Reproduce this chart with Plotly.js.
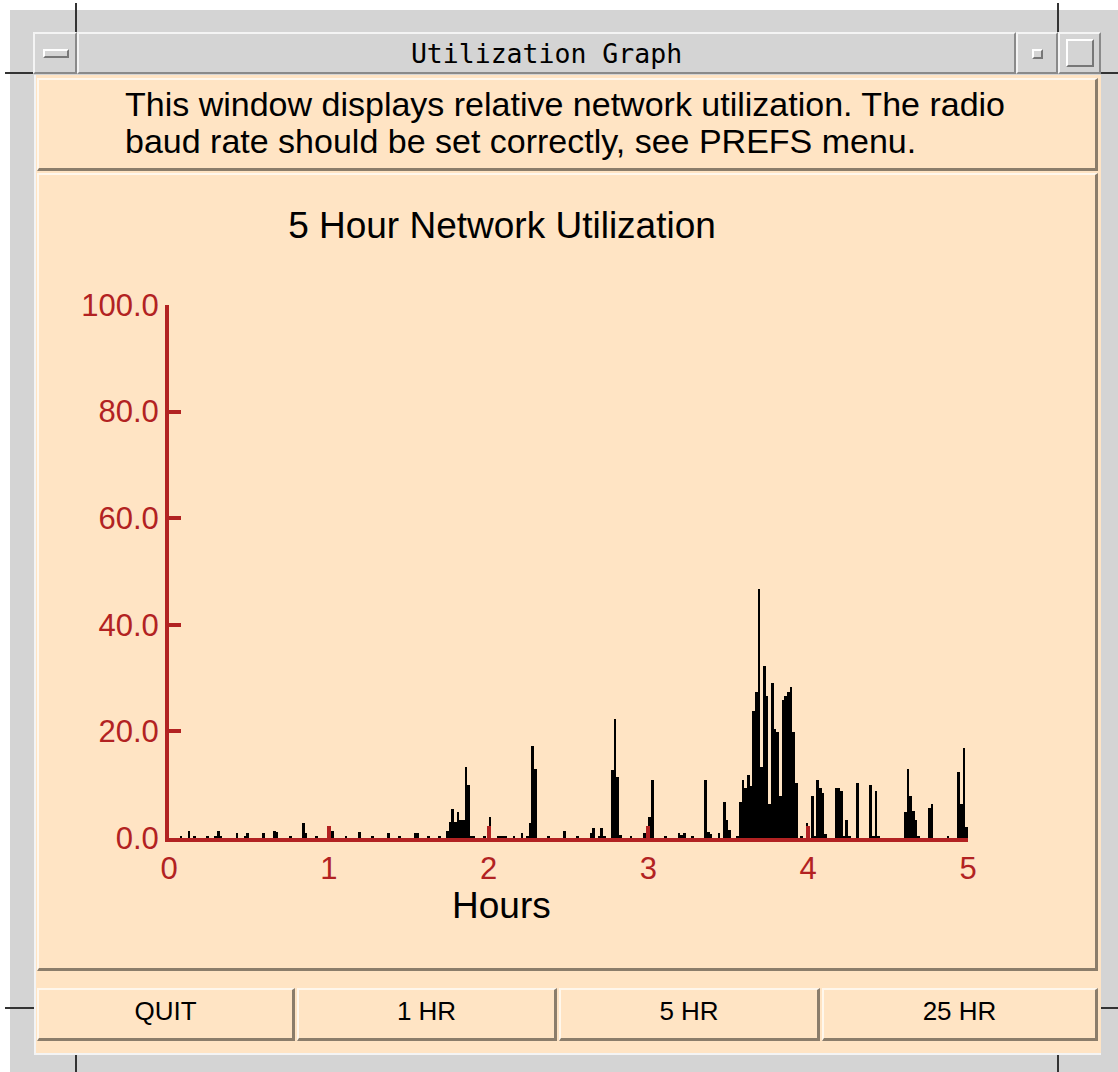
<!DOCTYPE html>
<html>
<head>
<meta charset="utf-8">
<script src="https://cdn.plot.ly/plotly-3.0.1.min.js"></script>
<style>
  html, body { margin:0; padding:0; background:#ffffff; }
  body { width:1118px; height:1072px; position:relative; overflow:hidden; font-family:"Liberation Sans", Arial, Helvetica, sans-serif; }
  .abs { position:absolute; box-sizing:border-box; }
  .gray { background:#d4d4d4; }
  .line { position:absolute; background:#333; }
  .wmbtn { position:absolute; box-sizing:border-box; background:#d4d4d4;
           border-top:2px solid #f4f4f4; border-left:2px solid #f4f4f4;
           border-bottom:2px solid #8a8a8a; border-right:2px solid #8a8a8a; }
  .panel { position:absolute; box-sizing:border-box; background:#ffe4c4;
           border-top:2px solid #fff7ec; border-left:2px solid #fff7ec;
           border-bottom:3px solid #8b7d6b; border-right:3px solid #8b7d6b; }
  .btn { position:absolute; box-sizing:border-box; background:#ffe4c4;
         border-top:2px solid #fff7ec; border-left:2px solid #fff7ec;
         border-bottom:3px solid #8b7d6b; border-right:3px solid #8b7d6b;
         display:flex; align-items:center; justify-content:center;
         font-size:26px; color:#000; padding-bottom:6px; }
</style>
</head>
<body>
<!-- window manager frame -->
<div class="abs gray" style="left:10px; top:10px; width:1108px; height:1062px;"></div>
<div class="line" style="left:75px; top:3px; width:2px; height:70px;"></div>
<div class="line" style="left:1057px; top:3px; width:2px; height:70px;"></div>
<div class="line" style="left:5px; top:72px; width:30px; height:2px;"></div>
<div class="line" style="left:1100px; top:72px; width:18px; height:2px;"></div>
<div class="line" style="left:5px; top:1007px; width:30px; height:2px;"></div>
<div class="line" style="left:1100px; top:1007px; width:18px; height:2px;"></div>
<div class="line" style="left:75px; top:1053px; width:2px; height:19px;"></div>
<div class="line" style="left:1057px; top:1053px; width:2px; height:19px;"></div>

<!-- title bar -->
<div class="wmbtn" style="left:33px; top:32px; width:44px; height:42px;">
  <div class="abs" style="left:8px; top:15px; width:26px; height:9px; border-top:2px solid #fff; border-left:2px solid #fff; border-bottom:2px solid #777; border-right:2px solid #777;"></div>
</div>
<div class="wmbtn" style="left:77px; top:32px; width:939px; height:42px; display:flex; align-items:center; justify-content:center;">
  <span style="font-family:'DejaVu Sans Mono','Liberation Mono',monospace; font-size:26.5px; color:#000;">Utilization Graph</span>
</div>
<div class="wmbtn" style="left:1016px; top:32px; width:42px; height:42px;">
  <div class="abs" style="left:14px; top:15px; width:11px; height:10px; border-top:2px solid #fff; border-left:2px solid #fff; border-bottom:2px solid #777; border-right:2px solid #777;"></div>
</div>
<div class="wmbtn" style="left:1058px; top:32px; width:43px; height:42px;">
  <div class="abs" style="left:6px; top:5px; width:28px; height:28px; border-top:2px solid #fff; border-left:2px solid #fff; border-bottom:2px solid #777; border-right:2px solid #777;"></div>
</div>

<!-- client area -->
<div class="abs" style="left:34px; top:75px; width:1067px; height:980px; background:#ffe4c4; border-left:2px solid #f4f4f4; border-bottom:2px solid #f4f4f4;"></div>

<div class="panel" style="left:37px; top:78px; width:1061px; height:93px;">
  <div class="abs" style="left:86px; top:6px; font-size:34px; line-height:37px; color:#000; white-space:nowrap;">This window displays relative network utilization. The radio<br>baud rate should be set correctly, see PREFS menu.</div>
</div>

<div class="panel" style="left:37px; top:173px; width:1061px; height:798px;"></div>
<div id="chart" class="abs" style="left:39px; top:175px; width:1056px; height:793px;"></div>

<div class="btn" style="left:37px; top:988px; width:258px; height:53px;">QUIT</div>
<div class="btn" style="left:297px; top:988px; width:260px; height:53px;">1 HR</div>
<div class="btn" style="left:559px; top:988px; width:261px; height:53px;">5 HR</div>
<div class="btn" style="left:822px; top:988px; width:276px; height:53px;">25 HR</div>

<script>
// Minute index within the 5-hour window (0..299) and the utilization (%) in that minute.
var minuteIndex = [
  4, 7, 9, 14, 17, 18, 19, 25, 28, 29, 35, 39, 40, 45, 50, 51, 55, 61, 66, 71,
  76, 82, 86, 92, 93, 97, 101, 104, 105, 106, 107, 108, 109, 110, 111, 112, 113, 114, 118,
  120, 123, 124, 125, 126, 129, 132, 134, 135, 136, 137, 142, 148,
  153, 158, 159, 161, 162, 163, 166, 167, 168, 169, 173, 178, 180, 181, 186,
  191, 192, 193, 196, 201, 202, 203, 206, 208, 209, 210, 213,
  214, 215, 216, 217, 218, 219, 220, 221, 222, 223, 224, 225, 226, 227, 228, 229,
  230, 231, 232, 233, 234, 235,
  237, 239, 241, 242, 243, 244, 245, 246, 250, 251, 252, 253, 254, 255, 258,
  263, 264, 265, 266, 276, 277, 278, 279, 280, 281, 285, 286, 292, 296, 297, 298, 299
];
var utilization = [
  0.3, 1.3, 0.3, 0.3, 0.3, 1.3, 0.3, 0.9, 0.3, 1.0, 0.9, 1.4, 1.2, 0.3, 2.9, 0.9, 0.3, 1.4, 0.3, 1.2,
  0.3, 1.0, 0.3, 1.0, 1.0, 0.3, 0.3, 1.4, 3.0, 5.4, 3.0, 4.9, 3.4, 3.4, 13.4, 9.9, 0.3, 0.3, 0.3,
  3.9, 0.3, 0.3, 0.3, 0.3, 0.3, 1.0, 0.3, 2.9, 17.3, 12.9, 0.3, 1.4,
  0.3, 0.9, 1.8, 0.3, 1.8, 0.3, 12.8, 22.3, 11.4, 0.5, 0.3, 0.9, 3.9, 10.9, 0.3,
  0.9, 0.5, 0.9, 0.3, 10.9, 1.2, 0.8, 0.9, 6.8, 3.4, 1.5, 0.3,
  6.8, 10.9, 9.3, 11.9, 9.8, 23.8, 27.3, 46.8, 13.4, 32.3, 26.7, 6.3, 29.0, 20.4, 19.8, 7.9,
  25.9, 26.7, 27.3, 28.4, 19.9, 10.4,
  0.3, 2.9, 7.9, 0.3, 10.9, 9.3, 8.4, 0.8, 9.4, 9.4, 8.8, 0.3, 3.4, 0.3, 10.4,
  9.9, 0.3, 8.8, 0.3, 4.8, 12.9, 7.9, 5.0, 3.4, 0.3, 5.7, 6.4, 0.3, 12.4, 6.4, 16.9, 2.0
];
var xTickValues = [0, 1, 2, 3, 4, 5];
var xTickLabels = ['0', '1', '2', '3', '4', '5'];
var yTickValues = [0, 20, 40, 60, 80, 100];
var yTickLabels = ['0.0', '20.0', '40.0', '60.0', '80.0', '100.0'];

var hours = minuteIndex.map(function (m) { return (m + 0.5) / 60; });

var axisRed = '#b22222';
var peach = '#ffe4c4';

var trace = {
  type: 'bar',
  x: hours,
  y: utilization,
  width: 1 / 60,
  marker: { color: '#000000', line: { width: 0 } },
  hoverinfo: 'none'
};

var layout = {
  width: 1056, height: 793,
  margin: { l: 130, r: 127, t: 130, b: 130, pad: 0 },
  paper_bgcolor: peach,
  plot_bgcolor: peach,
  showlegend: false,
  bargap: 0,
  font: { family: '"Liberation Sans", Arial, sans-serif', color: '#000' },
  title: {
    text: '5 Hour Network Utilization',
    font: { size: 37, color: '#000' },
    xref: 'container', x: (502 - 39) / 1056, xanchor: 'center',
    yref: 'container', y: 1 - (225 - 175) / 793, yanchor: 'middle'
  },
  xaxis: {
    range: [0, 5],
    tickvals: xTickValues, ticktext: xTickLabels,
    ticks: 'inside', ticklen: 12, tickwidth: 4, tickcolor: axisRed,
    showline: true, linecolor: axisRed, linewidth: 4,
    showgrid: false, zeroline: false,
    tickfont: { size: 31, color: axisRed },
    fixedrange: true
  },
  yaxis: {
    range: [0, 100],
    tickvals: yTickValues, ticktext: yTickLabels,
    ticks: 'inside', ticklen: 12, tickwidth: 4, tickcolor: axisRed,
    showline: true, linecolor: axisRed, linewidth: 4,
    showgrid: false, zeroline: false,
    tickfont: { size: 31, color: axisRed },
    fixedrange: true
  },
  annotations: [{
    text: 'Hours', showarrow: false,
    xref: 'paper', yref: 'paper',
    x: (502 - 169) / 800, y: -(905 - 838) / 533,
    xanchor: 'center', yanchor: 'middle',
    font: { size: 37, color: '#000' }
  }]
};

Plotly.newPlot('chart', [trace], layout, { displayModeBar: false, staticPlot: true });
</script>
</body>
</html>
